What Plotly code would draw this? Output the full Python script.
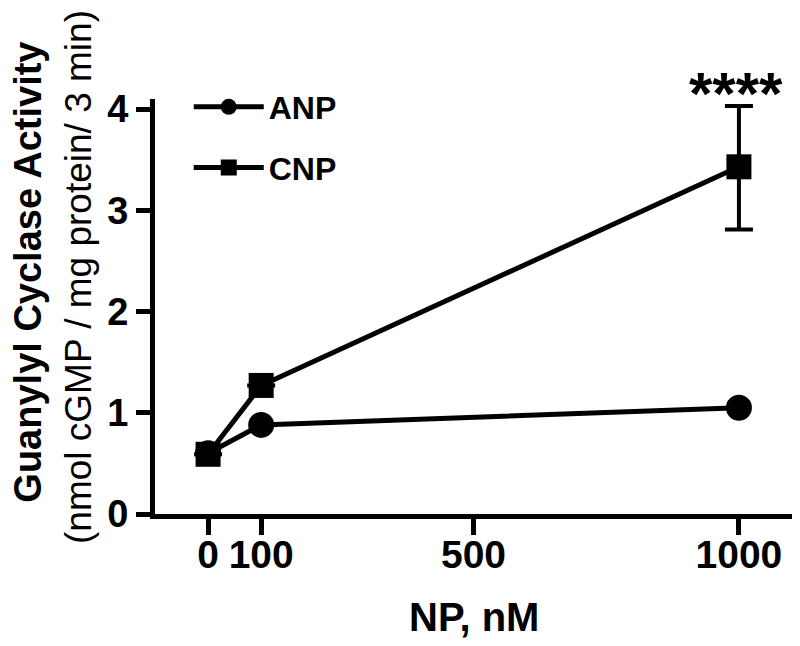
import plotly.graph_objects as go

# NP concentration (nM) and guanylyl cyclase activity
np_nm = [0, 100, 1000]
anp_activity = [0.60, 0.88, 1.05]
cnp_activity = [0.59, 1.27, 3.43]
cnp_err_plus = [None, None, 0.60]
cnp_err_minus = [None, None, 0.62]

x_ticks = [0, 100, 500, 1000]
y_ticks = [0, 1, 2, 3, 4]

FONT = "Arial, Liberation Sans, sans-serif"

fig = go.Figure()

fig.add_trace(go.Scatter(
    x=np_nm, y=anp_activity, name="<b>ANP</b>", mode="lines+markers",
    legendgroup="anp",
    line=dict(color="black", width=5),
    marker=dict(symbol="circle", size=26, color="black"),
))

fig.add_trace(go.Scatter(
    x=np_nm, y=cnp_activity, name="<b>CNP</b>", mode="lines+markers",
    legendgroup="cnp",
    line=dict(color="black", width=5),
    marker=dict(symbol="square", size=25, color="black"),
    error_y=dict(type="data", array=cnp_err_plus, arrayminus=cnp_err_minus,
                 symmetric=False, color="black", thickness=4, width=14),
))

# significance marker above the 1000 nM CNP point
fig.add_annotation(
    x=np_nm[2], y=cnp_activity[2] + cnp_err_plus[2], text="<b>****</b>",
    showarrow=False, yanchor="bottom", yshift=-23, xshift=-3,
    font=dict(family=FONT, size=60, color="black"),
)

# y axis title, two lines
fig.add_annotation(
    xref="paper", yref="paper", x=-0.2, y=0.583,
    xanchor="center", yanchor="middle",
    text="<b>Guanylyl Cyclase Activity</b>", textangle=-90, showarrow=False,
    font=dict(family=FONT, size=38, color="black"),
)
fig.add_annotation(
    xref="paper", yref="paper", x=-0.121, y=0.571,
    xanchor="center", yanchor="middle",
    text="(nmol cGMP / mg protein/ 3 min)", textangle=-90, showarrow=False,
    font=dict(family=FONT, size=37, color="black"),
)
fig.add_annotation(
    xref="paper", yref="paper", x=0.5, y=-0.248,
    xanchor="center", yanchor="middle",
    text="<b>NP, nM</b>", showarrow=False,
    font=dict(family=FONT, size=40, color="black"),
)

fig.update_layout(
    width=800, height=646,
    margin=dict(l=147, r=16, t=91, b=140, autoexpand=False),
    plot_bgcolor="white", paper_bgcolor="white",
    font=dict(family=FONT, color="black"),
    legend=dict(
        x=0.053, y=1.047, xanchor="left", yanchor="top",
        font=dict(family=FONT, size=32, color="black"),
        traceorder="grouped", tracegroupgap=16, itemwidth=70,
        bgcolor="rgba(0,0,0,0)",
    ),
    xaxis=dict(
        range=[-100, 1100], tickvals=x_ticks,
        ticktext=[f"<b>{v}</b>" for v in x_ticks],
        showline=True, linecolor="black", linewidth=5,
        ticks="outside", ticklen=16, tickwidth=5, tickcolor="black",
        ticklabelstandoff=-14,
        tickfont=dict(family=FONT, size=39, color="black"),
        showgrid=False, zeroline=False,
    ),
    yaxis=dict(
        range=[0, 4.1], tickvals=y_ticks,
        ticktext=[f"<b>{v}</b>" for v in y_ticks],
        showline=True, linecolor="black", linewidth=5,
        ticks="outside", ticklen=14, tickwidth=5, tickcolor="black",
        tickfont=dict(family=FONT, size=38, color="black"),
        showgrid=False, zeroline=False,
    ),
)

fig.write_html("out.html")
